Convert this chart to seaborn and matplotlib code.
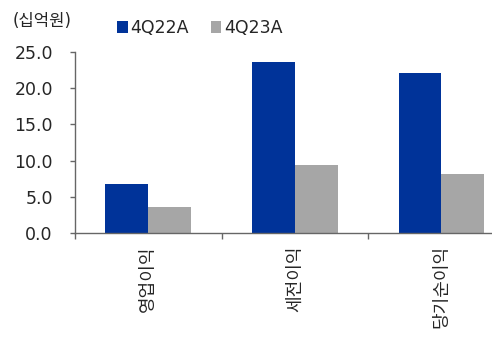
import matplotlib
matplotlib.use("Agg")
import matplotlib.pyplot as plt
import seaborn as sns
import pandas as pd
from matplotlib.ticker import FixedLocator, NullFormatter, FixedFormatter

categories = ["영업이익", "세전이익", "당기순이익"]
series_names = ["4Q22A", "4Q23A"]
values_4q22a = [6.7, 23.7, 22.1]
values_4q23a = [3.5, 9.4, 8.2]
y_ticks = [0.0, 5.0, 10.0, 15.0, 20.0, 25.0]
unit_label = "(십억원)"

colors = {"4Q22A": "#003399", "4Q23A": "#A6A6A6"}

df = pd.DataFrame({
    "category": categories * 2,
    "series": [series_names[0]] * 3 + [series_names[1]] * 3,
    "value": values_4q22a + values_4q23a,
})

sns.set_theme(style="white")
plt.rcParams["font.family"] = ["DejaVu Sans", "Noto Sans CJK KR"]

fig = plt.figure(figsize=(4.92, 3.37), dpi=100)
ax = fig.add_axes([75 / 492, 1 - 232.7 / 337, 417 / 492, 180.4 / 337])

sns.barplot(
    data=df, x="category", y="value", hue="series", order=categories,
    hue_order=series_names, palette=colors, width=0.586, gap=0,
    saturation=1, linewidth=0, ax=ax, legend=True,
)

ax.set_xlim(-0.5, -0.5 + 417 / 146.6)
ax.set_ylim(0, 25)
ax.set_xlabel("")
ax.set_ylabel("")

spine_color = "#666666"
text_color = "#262626"
for side in ["top", "right"]:
    ax.spines[side].set_visible(False)
for side in ["left", "bottom"]:
    ax.spines[side].set_color(spine_color)
    ax.spines[side].set_linewidth(1.0)

# y axis ticks and labels
ax.yaxis.set_major_locator(FixedLocator(y_ticks))
ax.set_yticklabels([f"{t:.1f}" for t in y_ticks])
ax.tick_params(axis="y", which="major", direction="out", length=3.5, width=1,
               color=spine_color, pad=12.5, labelsize=12.5,
               labelcolor=text_color, left=True)

# x axis: separators as major ticks, category names on minor ticks
ax.xaxis.set_major_locator(FixedLocator([-0.5, 0.5, 1.5]))
ax.xaxis.set_major_formatter(NullFormatter())
ax.xaxis.set_minor_locator(FixedLocator([0, 1, 2]))
ax.xaxis.set_minor_formatter(FixedFormatter(categories))
ax.tick_params(axis="x", which="major", direction="out", length=4, width=1,
               color=spine_color, bottom=True)
ax.tick_params(axis="x", which="minor", length=0, pad=9, labelsize=13,
               labelcolor=text_color, labelrotation=90, bottom=True)
for lbl in ax.get_xticklabels(minor=True):
    lbl.set_va("top")
    lbl.set_ha("center")
    lbl.set_family(["Noto Sans CJK KR", "DejaVu Sans"])

handles, labels = ax.get_legend_handles_labels()
ax.get_legend().remove()
fig.legend(handles, labels, loc="center left",
           bbox_to_anchor=(117 / 492, 1 - 28 / 337), ncol=2, frameon=False,
           fontsize=12.5, handlelength=0.62, handleheight=0.62,
           handletextpad=0.15, columnspacing=1.25, borderpad=0,
           borderaxespad=0, labelcolor=text_color)

fig.text(13 / 492, 1 - 21 / 337, unit_label, ha="left", va="center",
         fontsize=12, color=text_color)

fig.savefig("out.png", dpi=100)
